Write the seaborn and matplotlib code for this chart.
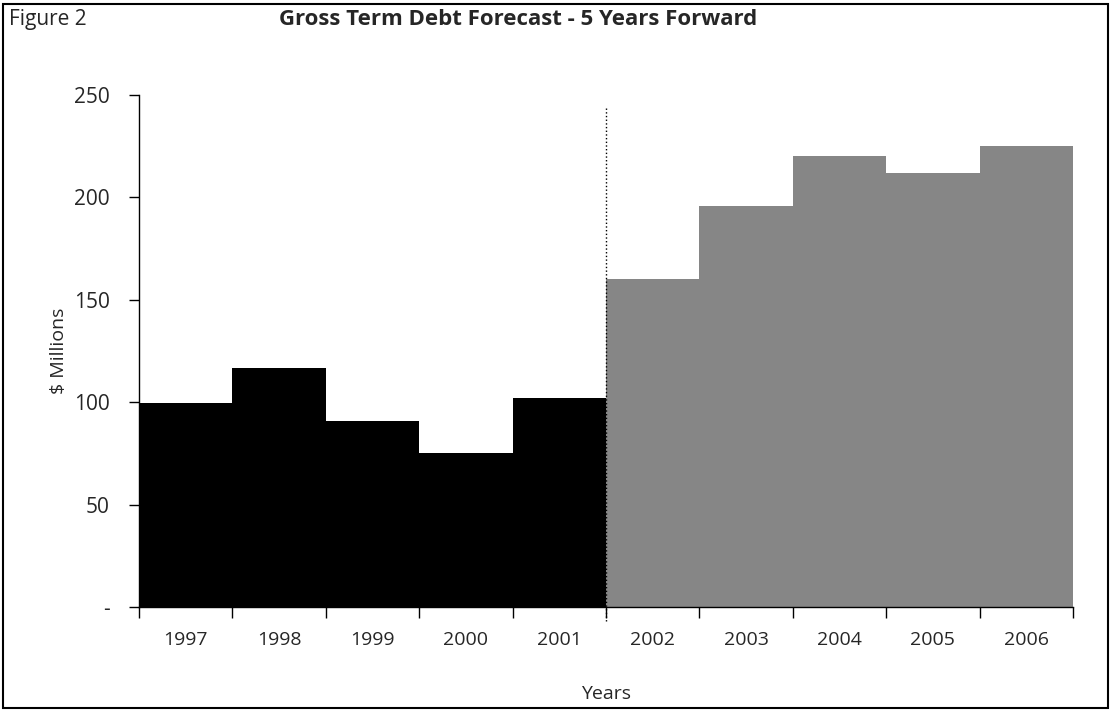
import matplotlib
matplotlib.use("Agg")
import matplotlib.pyplot as plt
from matplotlib.patches import Rectangle
import seaborn as sns
import pandas as pd

# Gross term debt, $ millions
years = ["1997", "1998", "1999", "2000", "2001",
         "2002", "2003", "2004", "2005", "2006"]
debt = [99.5, 116.5, 91, 75, 102,
        160, 196, 220, 212, 225]
period = ["Actual"] * 5 + ["Forecast"] * 5
y_ticks = [0, 50, 100, 150, 200, 250]
y_tick_labels = ["-", "50", "100", "150", "200", "250"]

sns.set_theme(style="white")
plt.rcParams["font.family"] = ["Open Sans", "DejaVu Sans"]

df = pd.DataFrame({"Year": years, "Debt": debt, "Period": period})

fig = plt.figure(figsize=(11.11, 7.12), dpi=100)
ax = fig.add_axes([0.1251, 0.1475, 0.8407, 0.7191])

sns.barplot(data=df, x="Year", y="Debt", hue="Period",
            palette={"Actual": "#000000", "Forecast": "#868686"},
            width=1.0, dodge=False, legend=False, linewidth=0,
            saturation=1, ax=ax)

ax.set_xlim(-0.5, len(years) - 0.5)
ax.set_ylim(0, 250)

# y axis: outward ticks, dash for zero
ax.set_yticks(y_ticks)
ax.set_yticklabels(y_tick_labels, fontsize=15)
ax.tick_params(axis="y", direction="out", length=7, width=1,
               color="black", left=True, pad=14)

# x axis: tick marks between categories, labels centred on bars
n = len(years)
ax.set_xticks([i - 0.5 for i in range(n + 1)])
ax.set_xticklabels([""] * (n + 1))
ax.set_xticks(list(range(n)), minor=True)
ax.set_xticklabels(years, minor=True, fontsize=14)
ax.tick_params(axis="x", which="major", direction="out", length=8,
               width=1, color="black", bottom=True)
ax.tick_params(axis="x", which="minor", length=0, pad=17)

for side in ["top", "right"]:
    ax.spines[side].set_visible(False)
for side in ["left", "bottom"]:
    ax.spines[side].set_color("black")
    ax.spines[side].set_linewidth(1)

# divider between actuals and forecast
ax.plot([4.5, 4.5], [-7, 244], linestyle=":", color="black",
        linewidth=1, clip_on=False, zorder=5)

ax.set_xlabel("Years", fontsize=14, labelpad=26)
ax.set_ylabel("$ Millions", fontsize=14, labelpad=4)

fig.text(0.466, 0.973, "Gross Term Debt Forecast - 5 Years Forward",
         ha="center", va="center", fontsize=16, fontweight="bold")
fig.text(0.008, 0.973, "Figure 2", ha="left", va="center", fontsize=15)

# figure frame
fig.patches.append(Rectangle((0.003, 0.005), 0.994, 0.99,
                             transform=fig.transFigure, fill=False,
                             edgecolor="black", linewidth=1.5))

fig.savefig("out.png", dpi=100)
